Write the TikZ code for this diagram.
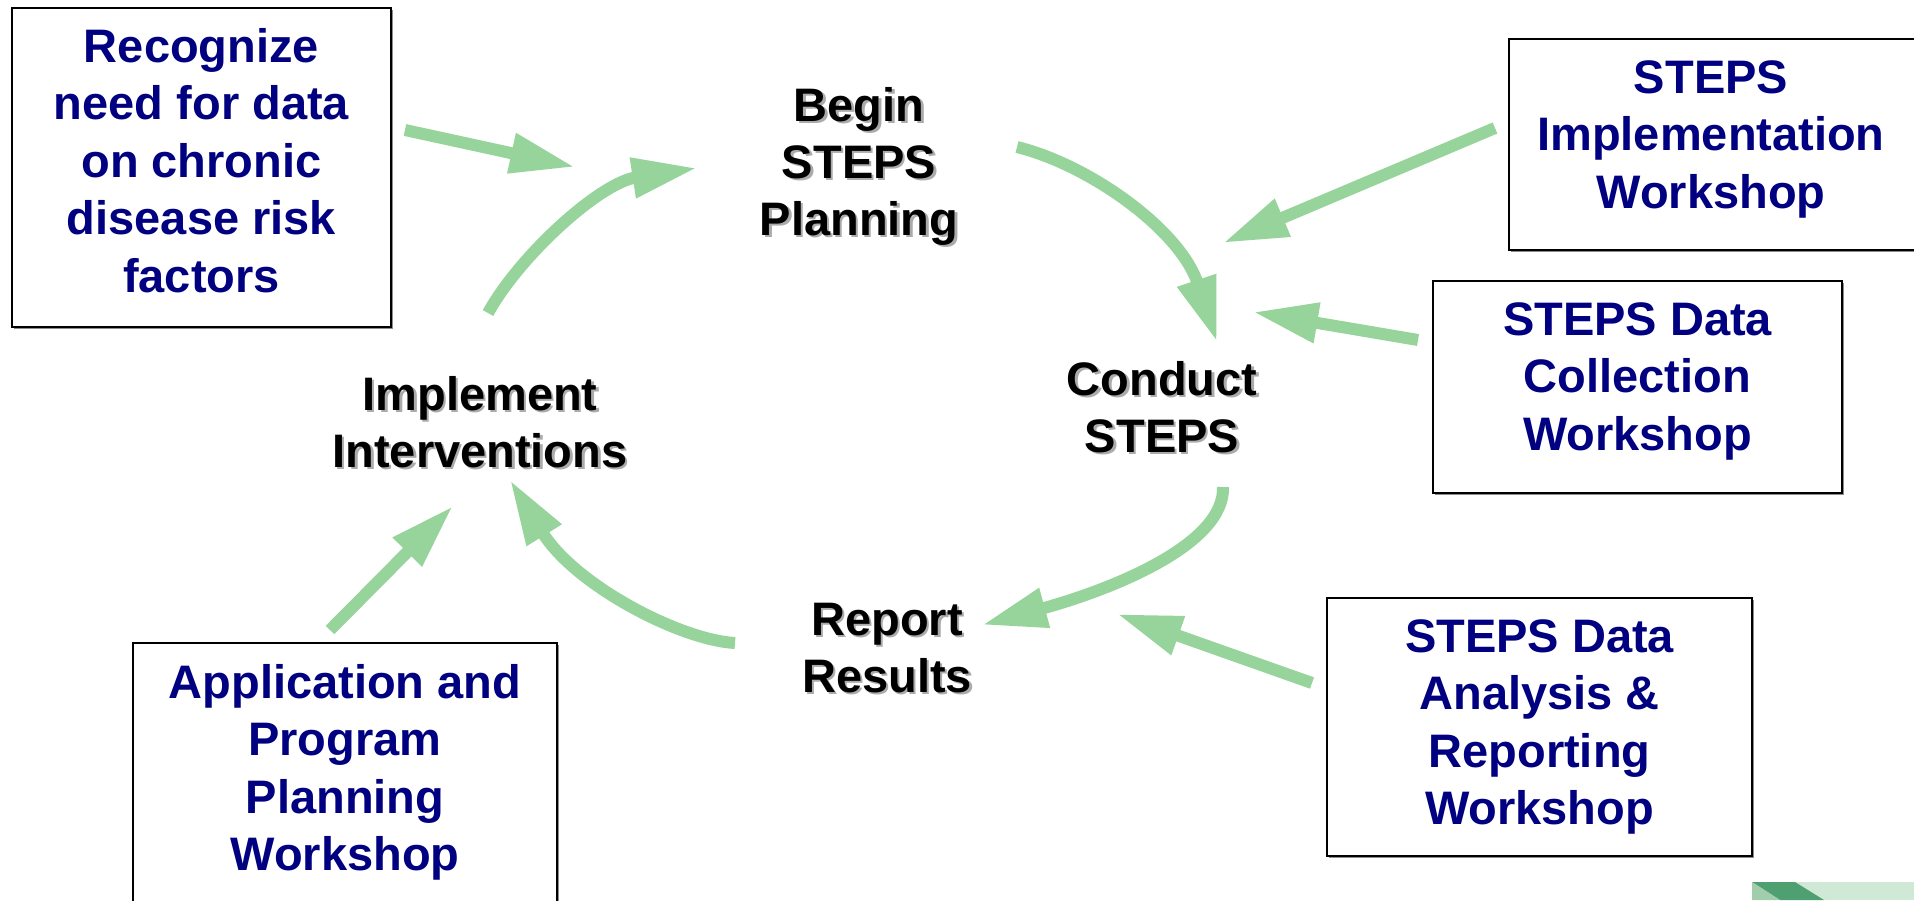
\documentclass[tikz,border=0pt]{standalone}
\usepackage{fontspec}
\setmainfont{Liberation Sans}
\usetikzlibrary{arrows.meta,shadows}
\definecolor{navy}{RGB}{0,0,128}
\definecolor{agreen}{RGB}{151,212,155}
\definecolor{logodark}{RGB}{78,160,112}
\definecolor{logomid}{RGB}{160,206,172}
\definecolor{logopale}{RGB}{208,233,214}
\begin{document}
\begin{tikzpicture}[x=1pt,y=-1pt,
  wbox/.style={draw=black, line width=2.5pt, fill=white, inner sep=0pt,
    general shadow={fill=black!45, shadow xshift=2pt, shadow yshift=-2pt}},
  btext/.style={anchor=north, inner sep=0pt, align=center, text=navy,
    font=\fontsize{47}{57.5}\selectfont\bfseries},
  ctext/.style={anchor=north, inner sep=0pt, align=center, text=black,
    font=\fontsize{47}{57}\selectfont\bfseries},
  cshadow/.style={ctext, text=black!33},
  flow/.style={draw=agreen, line width=12pt, -{Triangle[length=65pt,width=38pt]}},
]
\useasboundingbox (0,0) rectangle (1914,900);
\clip (0,0) rectangle (1914,900);
\fill[white] (0,0) rectangle (1914,900);

% workshop boxes
\node[wbox, minimum width=379pt, minimum height=319pt] (box1) at (201.5,167.5) {};
\node[wbox, minimum width=406pt, minimum height=211pt] (box2) at (1712,144.5) {};
\node[wbox, minimum width=409pt, minimum height=212pt] (box3) at (1637.5,387) {};
\node[wbox, minimum width=425pt, minimum height=258pt] (box4) at (1539.5,727) {};
\node[wbox, minimum width=424pt, minimum height=300pt] (box5) at (345,793) {};

\node[btext] (t1) at (201.5,22) {\strut Recognize\\\strut need for data\\\strut on chronic\\\strut disease risk\\\strut factors};
\node[btext] (t2) at (1711,53) {\strut STEPS\\\strut Implementation\\\strut Workshop};
\node[btext] (t3) at (1637.5,295) {\strut STEPS Data\\\strut Collection\\\strut Workshop};
\node[btext] (t4) at (1539.5,612) {\strut STEPS Data\\\strut Analysis \&\\\strut Reporting\\\strut Workshop};
\node[btext] (t5) at (345,658) {\strut Application and\\\strut Program\\\strut Planning\\\strut Workshop};

% cycle labels with shadow
\node[cshadow] (beginS) at (861.5,83.5) {\strut Begin\\\strut STEPS\\\strut Planning};
\node[ctext] (begin) at (859,81) {\strut Begin\\\strut STEPS\\\strut Planning};
\node[cshadow] (conductS) at (1164.5,357.5) {\strut Conduct\\\strut STEPS};
\node[ctext] (conduct) at (1162,355) {\strut Conduct\\\strut STEPS};
\node[cshadow] (implS) at (482.5,372.5) {\strut Implement\\\strut Interventions};
\node[ctext] (impl) at (480,370) {\strut Implement\\\strut Interventions};
\node[cshadow] (reportS) at (889.5,597.5) {\strut Report\\\strut Results};
\node[ctext] (report) at (887,595) {\strut Report\\\strut Results};

% connector end points
\coordinate (a1s) at (405,130);  \coordinate (a1e) at (575,167);
\coordinate (a2s) at (488,313);  \coordinate (a2e) at (697,168);
\coordinate (a3s) at (1017,147); \coordinate (a3e) at (1217,342);
\coordinate (a4s) at (1495,128); \coordinate (a4e) at (1223,243);
\coordinate (a5s) at (1418,340); \coordinate (a5e) at (1253,312);
\coordinate (a6s) at (1223,487); \coordinate (a6e) at (982,625);
\coordinate (a7s) at (1312,683); \coordinate (a7e) at (1117,614);
\coordinate (a8s) at (735,643);  \coordinate (a8e) at (510,480);
\coordinate (a9s) at (330,630);  \coordinate (a9e) at (453,506);

\draw[flow] (a1s) -- (a1e);
\draw[flow] (a2s) .. controls (520,255) and (600,183) .. (a2e);
\draw[flow] (a3s) .. controls (1090,165) and (1180,230) .. (a3e);
\draw[flow] (a4s) -- (a4e);
\draw[flow] (a5s) -- (a5e);
\draw[flow] (a6s) .. controls (1225,545) and (1110,590) .. (a6e);
\draw[flow] (a7s) -- (a7e);
\draw[flow] (a8s) .. controls (680,640) and (575,585) .. (a8e);
\draw[flow] (a9s) -- (a9e);

% logo fragment (bottom right)
\fill[logopale] (1752,882) rectangle (1914,900);
\fill[logodark] (1752,882) -- (1795,882) -- (1824,900) -- (1780,900) -- cycle;
\fill[logomid] (1752,882) -- (1780,900) -- (1752,900) -- cycle;
\end{tikzpicture}
\end{document}
